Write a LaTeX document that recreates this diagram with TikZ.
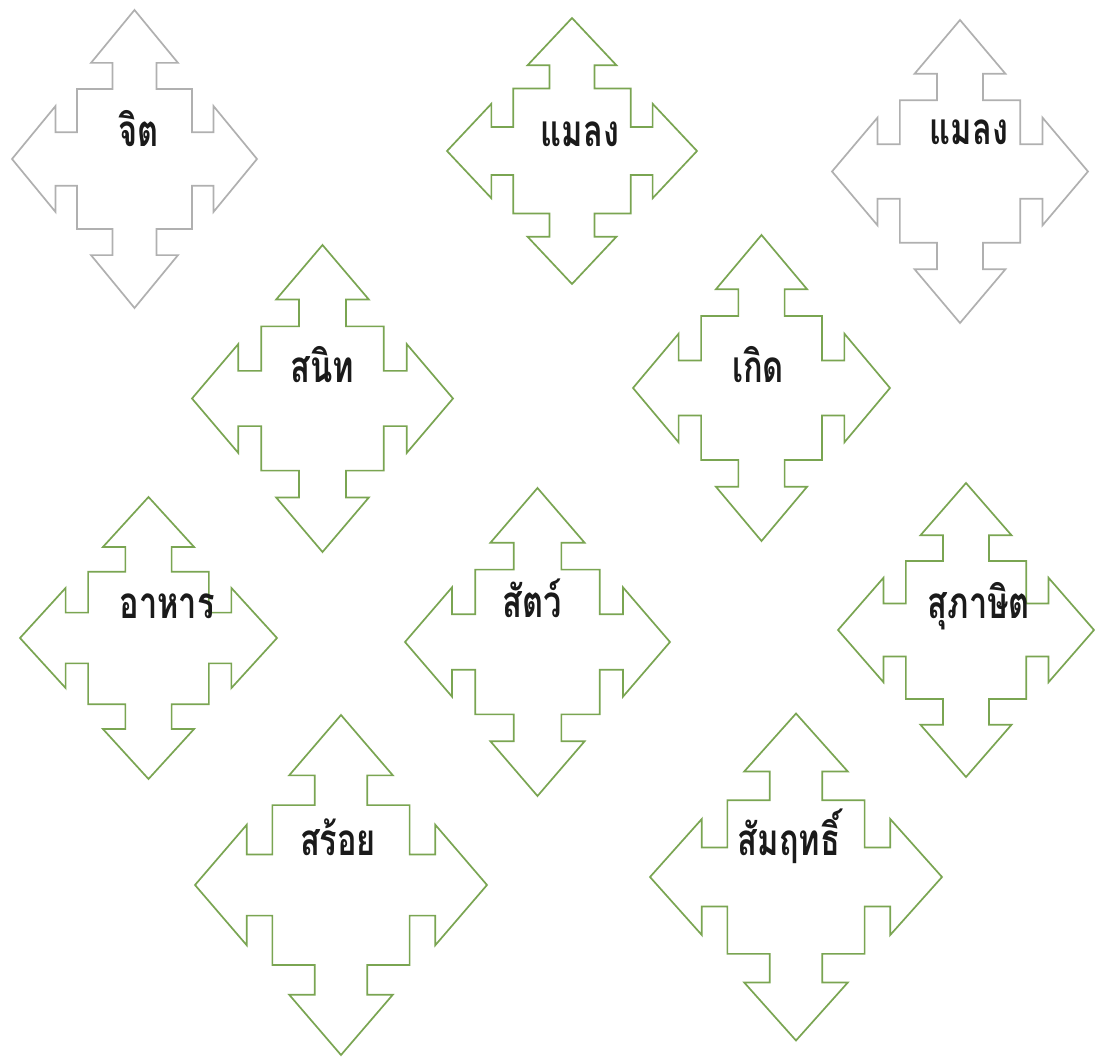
\documentclass[tikz,border=0pt]{standalone}
\usepackage{fontspec}
\newfontfamily\thaifont[Script=Thai]{Loma}
\definecolor{arrgreen}{HTML}{7AA552}
\definecolor{arrgray}{HTML}{B0B0B0}
\definecolor{txt}{HTML}{1A1A1A}
\newcommand\quadarr[5]{%
  \begin{scope}[shift={(#1,#2)},x=#3pt,y=#4pt]
    \draw[#5] (0,1) -- (0.355,0.645) -- (0.18,0.645) -- (0.18,0.47) -- (0.47,0.47) -- (0.47,0.18) -- (0.645,0.18) -- (0.645,0.355)
      -- (1,0) -- (0.645,-0.355) -- (0.645,-0.18) -- (0.47,-0.18) -- (0.47,-0.47) -- (0.18,-0.47) -- (0.18,-0.645) -- (0.355,-0.645)
      -- (0,-1) -- (-0.355,-0.645) -- (-0.18,-0.645) -- (-0.18,-0.47) -- (-0.47,-0.47) -- (-0.47,-0.18) -- (-0.645,-0.18) -- (-0.645,-0.355)
      -- (-1,0) -- (-0.645,0.355) -- (-0.645,0.18) -- (-0.47,0.18) -- (-0.47,0.47) -- (-0.18,0.47) -- (-0.18,0.645) -- (-0.355,0.645) -- cycle;
  \end{scope}}
\tikzset{
  greenarr/.style={draw=arrgreen,line width=1.7pt,line join=miter},
  grayarr/.style={draw=arrgray,line width=1.7pt,line join=miter},
  lbl/.style={anchor=base,inner sep=0pt,text=txt,font=\thaifont\bfseries\fontsize{44}{46}\selectfont,xscale=0.74}
}
\begin{document}
\begin{tikzpicture}[x=1pt,y=-1pt]
\useasboundingbox[fill=white] (0,0) rectangle (1095,1059);
\quadarr{134.5}{159}{122.5}{149}{grayarr}
\quadarr{572}{151}{125}{133}{greenarr}
\quadarr{960}{171.5}{128}{151.5}{grayarr}
\quadarr{322.5}{398.5}{130.5}{153.5}{greenarr}
\quadarr{761.5}{388}{128.5}{153}{greenarr}
\quadarr{148.5}{638}{128.5}{141}{greenarr}
\quadarr{537.5}{642}{132.5}{154}{greenarr}
\quadarr{966}{630}{128}{147}{greenarr}
\quadarr{341}{885}{146}{170}{greenarr}
\quadarr{796}{877}{146}{163.5}{greenarr}
\node[lbl] (t1) at (139,147) {จิต};
\node[lbl] (t2) at (580,147) {แมลง};
\node[lbl] (t3) at (969,145) {แมลง};
\node[lbl] (t4) at (322,382) {สนิท};
\node[lbl] (t5) at (758,382) {เกิด};
\node[lbl] (t6) at (167,618) {อาหาร};
\node[lbl] (t7) at (532,617) {สัตว์};
\node[lbl] (t8) at (979,618) {สุภาษิต};
\node[lbl] (t9) at (338,855) {สร้อย};
\node[lbl] (t10) at (789,855) {สัมฤทธิ์};
\end{tikzpicture}
\end{document}
